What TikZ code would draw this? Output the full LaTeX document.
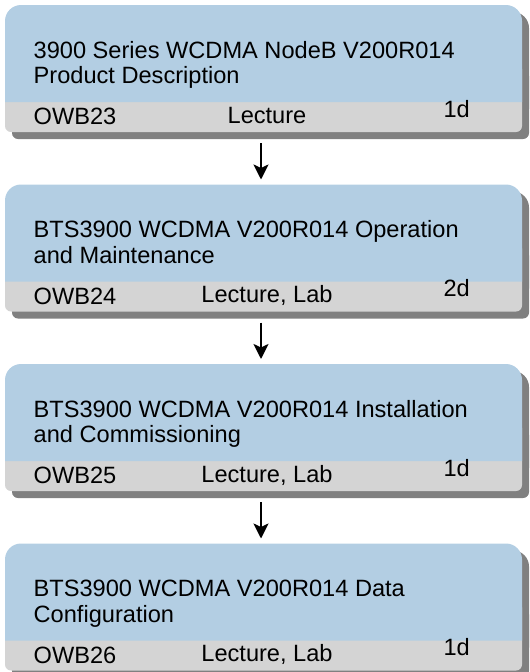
\documentclass[tikz,border=0pt]{standalone}
\usepackage{fontspec}
\setmainfont{Liberation Sans}
\usetikzlibrary{arrows.meta}

\begin{document}
\begin{tikzpicture}[x=1pt,y=1pt,yscale=-1,xscale=1,
  shadowpart/.style={fill={rgb, 255:red, 128; green, 128; blue, 128}},
  bluepart/.style={fill={rgb, 255:red, 179; green, 206; blue, 227}, rounded corners=16pt},
  bandpart/.style={fill={rgb, 255:red, 212; green, 212; blue, 212}, rounded corners=6pt},
  frame/.style={minimum width=517pt, minimum height=127pt, inner sep=0pt, outer sep=0pt},
  label/.style={inner sep=0pt, font=\fontsize{23.6}{25.5}\selectfont},
  flow/.style={line width=2.2pt, -{Stealth[length=15pt,width=15pt,inset=3.5pt]}, shorten <=11pt, shorten >=5pt}]
\useasboundingbox (0,0) rectangle (530,672);
\clip (0,0) rectangle (530,672);

%Shape: Box OWB23
\fill [shadowpart, rounded corners=16pt] (12,109) -- (12,12) -- (529,12) -- (529,109) ;
\fill [shadowpart, rounded corners=6pt] (12,70) rectangle (529,139) ;
\fill [bandpart] (5,63) rectangle (522,132) ;
\fill [bluepart] (5,102) -- (5,5) -- (522,5) -- (522,102) ;
\node (box1) [frame] at (263.5,68.5) {};
% Text Node
\node (title1) [label, anchor=base west, align=left] at (33.5,83.5) {3900 Series WCDMA NodeB V200R014\\Product Description};
\node (code1) [label, anchor=base west] at (33.5,124.5) {OWB23};
\node (form1) [label, anchor=base] at (267,123) {Lecture};
\node (days1) [label, anchor=base east] at (470,117) {1d};

%Shape: Box OWB24
\fill [shadowpart, rounded corners=16pt] (12,288.5) -- (12,191.5) -- (529,191.5) -- (529,288.5) ;
\fill [shadowpart, rounded corners=6pt] (12,249.5) rectangle (529,318.5) ;
\fill [bandpart] (5,242.5) rectangle (522,311.5) ;
\fill [bluepart] (5,281.5) -- (5,184.5) -- (522,184.5) -- (522,281.5) ;
\node (box2) [frame] at (263.5,248) {};
% Text Node
\node (title2) [label, anchor=base west, align=left] at (33.5,263) {BTS3900 WCDMA V200R014 Operation\\and Maintenance};
\node (code2) [label, anchor=base west] at (33.5,304) {OWB24};
\node (form2) [label, anchor=base] at (267,302.5) {Lecture, Lab};
\node (days2) [label, anchor=base east] at (470,296.5) {2d};

%Shape: Box OWB25
\fill [shadowpart, rounded corners=16pt] (12,468) -- (12,371) -- (529,371) -- (529,468) ;
\fill [shadowpart, rounded corners=6pt] (12,429) rectangle (529,498) ;
\fill [bandpart] (5,422) rectangle (522,491) ;
\fill [bluepart] (5,461) -- (5,364) -- (522,364) -- (522,461) ;
\node (box3) [frame] at (263.5,427.5) {};
% Text Node
\node (title3) [label, anchor=base west, align=left] at (33.5,442.5) {BTS3900 WCDMA V200R014 Installation\\and Commissioning};
\node (code3) [label, anchor=base west] at (33.5,483.5) {OWB25};
\node (form3) [label, anchor=base] at (267,482) {Lecture, Lab};
\node (days3) [label, anchor=base east] at (470,476) {1d};

%Shape: Box OWB26
\fill [shadowpart, rounded corners=16pt] (12,647.5) -- (12,550.5) -- (529,550.5) -- (529,647.5) ;
\fill [shadowpart, rounded corners=6pt] (12,608.5) rectangle (529,677.5) ;
\fill [bandpart] (5,601.5) rectangle (522,670.5) ;
\fill [bluepart] (5,640.5) -- (5,543.5) -- (522,543.5) -- (522,640.5) ;
\node (box4) [frame] at (263.5,607) {};
% Text Node
\node (title4) [label, anchor=base west, align=left] at (33.5,622) {BTS3900 WCDMA V200R014 Data\\Configuration};
\node (code4) [label, anchor=base west] at (33.5,663) {OWB26};
\node (form4) [label, anchor=base] at (267,661.5) {Lecture, Lab};
\node (days4) [label, anchor=base east] at (470,655.5) {1d};

%Straight Lines
\draw [flow] ([xshift=-2.5pt]box1.south) -- ([xshift=-2.5pt]box2.north) ;
\draw [flow] ([xshift=-2.5pt]box2.south) -- ([xshift=-2.5pt]box3.north) ;
\draw [flow] ([xshift=-2.5pt]box3.south) -- ([xshift=-2.5pt]box4.north) ;

\end{tikzpicture}
\end{document}
